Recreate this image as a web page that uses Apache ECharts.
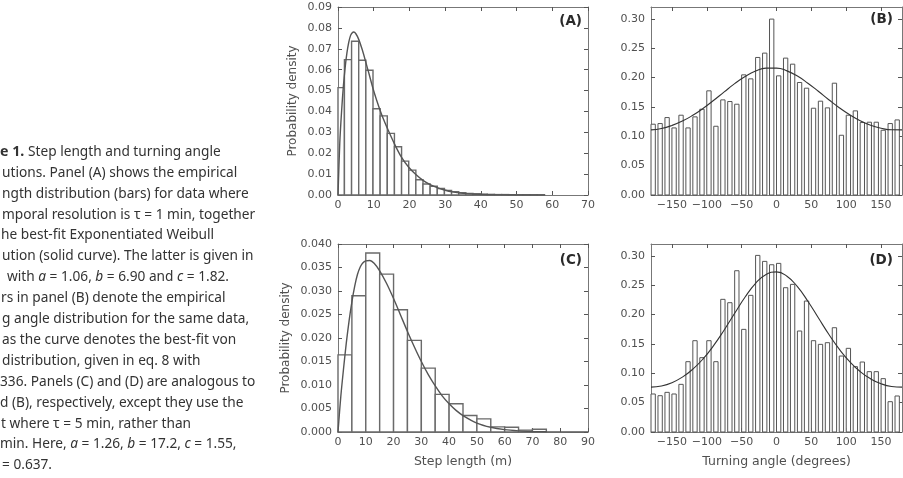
<!DOCTYPE html>
<html><head><meta charset="utf-8">
<script src="https://cdn.jsdelivr.net/npm/echarts@6/dist/echarts.min.js"></script>
<style>html,body{margin:0;padding:0;background:#fff}#c{width:903px;height:478px}</style>
</head><body><div id="c"></div>
<script>
// ---------------- DATA ----------------
// Panel A: step length histogram (tau = 1 min), bin edges (m) and densities
const stepEdgesA = [0, 1.8, 3.8, 5.8, 7.8, 9.8, 11.8, 13.8, 15.8, 17.8, 19.8, 21.8, 23.8, 25.8, 27.8, 29.8, 31.8, 33.8, 35.8, 37.8, 39.8, 41.8, 43.8, 45.8, 47.8, 49.8, 51.8, 53.8, 55.8, 57.8];
const stepDensA = [0.0514, 0.0648, 0.0736, 0.0645, 0.0597, 0.0413, 0.0379, 0.0295, 0.0231, 0.0162, 0.0119, 0.0073, 0.0053, 0.0042, 0.0031, 0.0022, 0.0016, 0.0011, 0.0008, 0.0006, 0.0004, 0.0003, 0.0002, 0.0002, 0.00015, 0.0001, 0.0001, 0.00008, 0.00005];
// Panel A: fitted Exponentiated Weibull curve
const curveXA = [0, 0.5, 1, 1.5, 2, 2.5, 3, 3.5, 4, 4.4, 5, 5.8, 6.8, 7.8, 8.8, 9.8, 10.8, 11.8, 12.8, 13.8, 15.8, 17.8, 19.8, 21.8, 23.8, 25.8, 27.8, 29.8, 32, 35, 38, 42, 46, 50, 58];
const curveYA = [0, 0.025, 0.040, 0.052, 0.061, 0.068, 0.073, 0.0763, 0.0777, 0.078, 0.0772, 0.0745, 0.0695, 0.0635, 0.0573, 0.051, 0.0455, 0.0405, 0.036, 0.032, 0.0245, 0.018, 0.0133, 0.0098, 0.0070, 0.005, 0.0035, 0.0024, 0.0015, 0.0008, 0.0004, 0.00015, 0.00005, 0.00002, 0];

// Panel C: step length histogram (tau = 5 min)
const stepEdgesC = [0, 5, 10, 15, 20, 25, 30, 35, 40, 45, 50, 55, 60, 65, 70, 75];
const stepDensC = [0.0164, 0.0290, 0.0381, 0.0336, 0.0260, 0.0195, 0.0136, 0.0080, 0.0060, 0.0035, 0.0028, 0.0011, 0.0010, 0.0004, 0.0006];
const curveXC = [0, 1, 2, 3, 4, 5, 6, 7, 8, 9, 10, 11.5, 13, 15, 17.5, 20, 22.5, 25, 27.5, 30, 32.5, 35, 37.5, 40, 42.5, 45, 50, 55, 60, 65, 70, 75, 80, 90];
const curveYC = [0, 0.0075, 0.0135, 0.019, 0.0237, 0.0277, 0.031, 0.0335, 0.0351, 0.036, 0.0364, 0.0365, 0.0359, 0.0343, 0.0316, 0.0284, 0.0249, 0.0214, 0.0181, 0.015, 0.0122, 0.0098, 0.0077, 0.006, 0.0046, 0.0035, 0.0019, 0.001, 0.0005, 0.00025, 0.00012, 0.00005, 0.00002, 0];

// Panels B and D: turning angle histograms, 10-degree bins (left edges)
const angleBinLefts = [-180, -170, -160, -150, -140, -130, -120, -110, -100, -90, -80, -70, -60, -50, -40, -30, -20, -10, 0, 10, 20, 30, 40, 50, 60, 70, 80, 90, 100, 110, 120, 130, 140, 150, 160, 170];
const angleBinWidth = 10;
const angleDensB = [0.1205, 0.1216, 0.1318, 0.1142, 0.1358, 0.1142, 0.1330, 0.1460, 0.1773, 0.1170, 0.1619, 0.1591, 0.1545, 0.2045, 0.1977, 0.2341, 0.2415, 0.2994, 0.2028, 0.2330, 0.2227, 0.1915, 0.1818, 0.1477, 0.1597, 0.1483, 0.1903, 0.1017, 0.1358, 0.1432, 0.1233, 0.1239, 0.1239, 0.1102, 0.1216, 0.1278];
const angleDensD = [0.0647, 0.0618, 0.0675, 0.0647, 0.0811, 0.1197, 0.1554, 0.1265, 0.1554, 0.1197, 0.2258, 0.2201, 0.2745, 0.1747, 0.2326, 0.3006, 0.2904, 0.2847, 0.2870, 0.2456, 0.2513, 0.1719, 0.2229, 0.1554, 0.1492, 0.1520, 0.1775, 0.1293, 0.1424, 0.1112, 0.1191, 0.1027, 0.1027, 0.0908, 0.0516, 0.0613];
// fitted von Mises curves
const curveXAngle = [-180, -165, -150, -135, -120, -105, -90, -75, -60, -45, -30, -15, 0, 15, 30, 45, 60, 75, 90, 105, 120, 135, 150, 165, 180];
const curveYB = [0.1109, 0.1133, 0.1184, 0.1258, 0.1357, 0.1477, 0.1612, 0.1755, 0.1895, 0.2017, 0.2109, 0.2159, 0.2160, 0.2113, 0.2024, 0.1903, 0.1765, 0.1622, 0.1486, 0.1365, 0.1264, 0.1188, 0.1136, 0.1110, 0.1109];
const curveYD = [0.0763, 0.0784, 0.0840, 0.0934, 0.1069, 0.1249, 0.1474, 0.1737, 0.2020, 0.2297, 0.2530, 0.2682, 0.2725, 0.2651, 0.2474, 0.2226, 0.1944, 0.1664, 0.1410, 0.1197, 0.1029, 0.0905, 0.0821, 0.0775, 0.0763];

// Tick values
const stepTicksA = [0, 10, 20, 30, 40, 50, 60, 70];
const stepTicksC = [0, 10, 20, 30, 40, 50, 60, 70, 80, 90];
const angleTicks = [-150, -100, -50, 0, 50, 100, 150];
const densTicksA = [0, 0.01, 0.02, 0.03, 0.04, 0.05, 0.06, 0.07, 0.08, 0.09];
const densTicksC = [0, 0.005, 0.010, 0.015, 0.020, 0.025, 0.030, 0.035, 0.040];
const densTicksAngle = [0, 0.05, 0.10, 0.15, 0.20, 0.25, 0.30];

// Caption (visible, clipped part)
const captionLines = [
  '{b|e 1.}',
  'utions. Panel (A) shows the empirical',
  'ngth distribution (bars) for data where',
  'mporal resolution is τ = 1 min, together',
  'he best-fit Exponentiated Weibull',
  'ution (solid curve). The latter is given in',
  'with {i|a} = 1.06, {i|b} = 6.90 and {i|c} = 1.82.',
  'rs in panel (B) denote the empirical',
  'g angle distribution for the same data,',
  'as the curve denotes the best-fit von',
  'distribution, given in eq. 8 with',
  '336. Panels (C) and (D) are analogous to',
  'd (B), respectively, except they use the',
  't where τ = 5 min, rather than',
  'min. Here, {i|a} = 1.26, {i|b} = 17.2, {i|c} = 1.55,',
  '= 0.637.'
];
const captionFirstRest = 'Step length and turning angle';

// ---------------- STYLE / LAYOUT ----------------
const angleBarFrac = 0.62;
const axisColor = '#777';
const labelColor = '#505050';
const tickFont = 'DejaVu Sans';
const captionX = [0, 2, 2, 2, 1, 2, 7, 1, 2, 2, 2, 0, 0, 1, 0, 2];
const captionY0 = 152, captionDY = 20.9;

const grids = [
  {left: 338, top: 7, width: 250, height: 188},
  {left: 651, top: 7, width: 251, height: 188},
  {left: 338, top: 244, width: 250, height: 188},
  {left: 651, top: 244, width: 251, height: 188}
];

const panels = [
  {xMin: 0, xMax: 70, xTicks: stepTicksA, yMax: 0.09, yTicks: densTicksA, yDec: 2, yName: 'Probability density', yGap: 39, xName: ''},
  {xMin: -180, xMax: 180, xTicks: angleTicks, yMax: 0.32, yTicks: densTicksAngle, yDec: 2, yName: '', xName: ''},
  {xMin: 0, xMax: 90, xTicks: stepTicksC, yMax: 0.04, yTicks: densTicksC, yDec: 3, yName: 'Probability density', yGap: 46, xName: 'Step length (m)'},
  {xMin: -180, xMax: 180, xTicks: angleTicks, yMax: 0.32, yTicks: densTicksAngle, yDec: 2, yName: '', xName: 'Turning angle (degrees)'}
];

const fmtX = v => (v < 0 ? '\u2212' + Math.abs(v) : String(v));

const xAxes = [], yAxes = [];
panels.forEach((p, g) => {
  const common = {type: 'value', gridIndex: g, min: p.xMin, max: p.xMax, splitLine: {show: false},
    axisLine: {show: true, onZero: false, lineStyle: {color: axisColor, width: 1}}};
  xAxes.push(Object.assign({}, common, {
    position: 'bottom',
    axisTick: {show: true, inside: true, length: 4, customValues: p.xTicks, lineStyle: {color: '#555'}},
    axisLabel: {show: true, customValues: p.xTicks, formatter: fmtX, margin: 5, color: labelColor, fontFamily: tickFont, fontSize: 11},
    name: p.xName, nameLocation: 'middle', nameGap: 23,
    nameTextStyle: {color: labelColor, fontFamily: tickFont, fontSize: 12.5}
  }));
  xAxes.push(Object.assign({}, common, {
    position: 'top',
    axisTick: {show: true, inside: true, length: 4, customValues: p.xTicks, lineStyle: {color: '#555'}},
    axisLabel: {show: false}
  }));
  const ycommon = {type: 'value', gridIndex: g, min: 0, max: p.yMax, splitLine: {show: false},
    axisLine: {show: true, onZero: false, lineStyle: {color: axisColor, width: 1}}};
  yAxes.push(Object.assign({}, ycommon, {
    position: 'left',
    axisTick: {show: true, inside: true, length: 4, customValues: p.yTicks, lineStyle: {color: '#555'}},
    axisLabel: {show: true, customValues: p.yTicks, formatter: v => v.toFixed(p.yDec), margin: 6, color: labelColor, fontFamily: tickFont, fontSize: 11},
    name: p.yName, nameLocation: 'middle', nameRotate: 90, nameGap: p.yGap || 40,
    nameTextStyle: {color: labelColor, fontFamily: tickFont, fontSize: 12}
  }));
  yAxes.push(Object.assign({}, ycommon, {
    position: 'right',
    axisTick: {show: true, inside: true, length: 4, customValues: p.yTicks, lineStyle: {color: '#555'}},
    axisLabel: {show: false}
  }));
});

function histItem(strokeColor, lw) {
  return function (params, api) {
    const x0 = api.value(0), x1 = api.value(1), h = api.value(2);
    const p0 = api.coord([x0, h]);
    const p1 = api.coord([x1, 0]);
    return {
      type: 'rect',
      shape: {x: p0[0], y: p0[1], width: p1[0] - p0[0], height: p1[1] - p0[1]},
      style: {fill: '#fff', stroke: strokeColor, lineWidth: lw}
    };
  };
}
const stepRows = (edges, dens) => dens.map((h, i) => [edges[i], edges[i + 1], h]);
const angleRows = dens => dens.map((h, i) => [angleBinLefts[i], angleBinLefts[i] + angleBinWidth * angleBarFrac, h]);
const pairs = (xs, ys) => xs.map((x, i) => [x, ys[i]]);

function histSeries(g, rows, color, lw) {
  return {type: 'custom', xAxisIndex: 2 * g, yAxisIndex: 2 * g, renderItem: histItem(color, lw),
    encode: {x: [0, 1], y: 2}, data: rows, z: 2, silent: true};
}
function curveSeries(g, data, color, lw, sm) {
  return {type: 'line', xAxisIndex: 2 * g, yAxisIndex: 2 * g, data: data, showSymbol: false, symbol: 'none',
    smooth: sm, lineStyle: {color: color, width: lw}, z: 3, silent: true};
}

const series = [
  histSeries(0, stepRows(stepEdgesA, stepDensA), '#6a6a6a', 1.4),
  curveSeries(0, pairs(curveXA, curveYA), '#555', 1.4, 0.3),
  histSeries(1, angleRows(angleDensB), '#555', 1),
  curveSeries(1, pairs(curveXAngle, curveYB), '#333', 1.1, 0.5),
  histSeries(2, stepRows(stepEdgesC, stepDensC), '#6a6a6a', 1.4),
  curveSeries(2, pairs(curveXC, curveYC), '#555', 1.4, 0.3),
  histSeries(3, angleRows(angleDensD), '#555', 1),
  curveSeries(3, pairs(curveXAngle, curveYD), '#333', 1.1, 0.5)
];

// graphic: panel tags and caption
const graphics = [];
const tags = [['(A)', 582, 21], ['(B)', 893, 19.5], ['(C)', 582, 260], ['(D)', 893, 260]];
tags.forEach(t => graphics.push({type: 'text', x: t[1], y: t[2], z: 10,
  style: {text: t[0], align: 'right', verticalAlign: 'middle', font: 'bold 13.5px "DejaVu Sans"', fill: '#2a2a2a'}}));

const capFont = '"Noto Sans"';
const capSize = 13.7;
const capRich = {
  b: {fontFamily: capFont, fontSize: capSize + 0.5, fontWeight: 'bold', fill: '#333'},
  i: {fontFamily: capFont, fontSize: capSize, fontStyle: 'italic', fill: '#333'}
};
captionLines.forEach((line, i) => {
  graphics.push({type: 'text', x: captionX[i], y: captionY0 + i * captionDY,
    style: {text: line, rich: capRich, fontFamily: capFont, fontSize: capSize, fill: '#333', align: 'left', verticalAlign: 'middle'}});
});
graphics.push({type: 'text', x: 28, y: captionY0,
  style: {text: captionFirstRest, fontFamily: capFont, fontSize: capSize, fill: '#333', align: 'left', verticalAlign: 'middle'}});

const chart = echarts.init(document.getElementById('c'), null, {renderer: 'canvas'});
chart.setOption({
  animation: false,
  backgroundColor: '#fff',
  grid: grids,
  xAxis: xAxes,
  yAxis: yAxes,
  series: series,
  graphic: graphics
});
</script>
</body></html>
